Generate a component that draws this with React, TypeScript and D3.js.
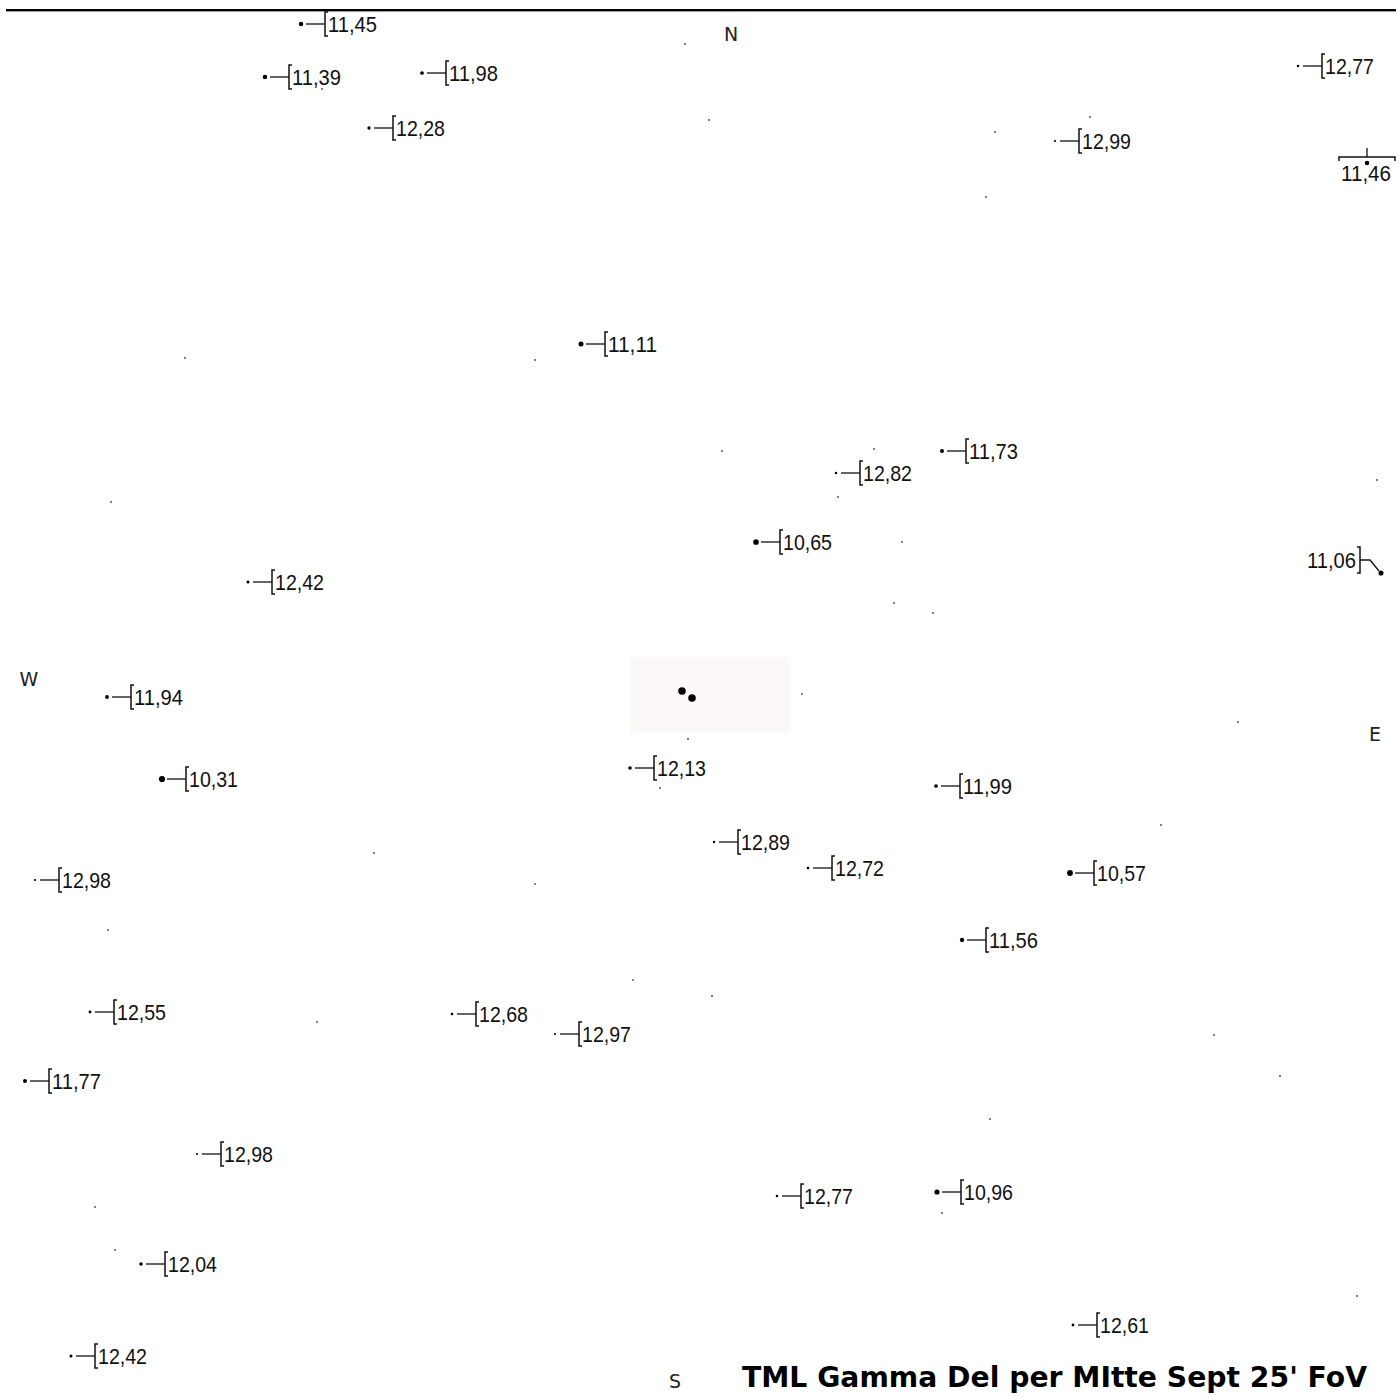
import React from "react";
import * as d3 from "d3";

// Chart-plane positions (chart units, 0..1399 across the 25' field)
const labelText = ["11,45","11,39","11,98","12,28","12,77","11,46","12,99","11,11","11,73","12,82","10,65","11,06","12,42","11,94","10,31","12,13","11,99","12,89","12,72","10,57","11,56","12,98","12,55","12,68","12,97","11,77","12,98","12,77","10,96","12,04","12,61","12,42"];
const starX = [301,265,422,369,1298,1367,1055,581,942,836,756,1381,248,107,162,630,936,714,808,1070,962,35,90,452,555,25,197,777,937,141,1073,71];
const starY = [24,77,73,128,66,163,141,344,451,473,542,573,582,697,779,768,786,842,868,873,940,880,1012,1014,1034,1081,1154,1196,1192,1264,1325,1356];
const placement = ["r","r","r","r","r","b","r","r","r","r","r","l","r","r","r","r","r","r","r","r","r","r","r","r","r","r","r","r","r","r","r","r"];

const faintX = [685,709,995,1090,986,322,185,535,722,874,838,111,902,894,933,1377,802,688,1238,660,1161,374,535,108,633,712,317,1214,1280,990,942,95,115,1357];
const faintY = [44,120,132,117,197,89,358,360,451,449,497,502,542,603,613,480,694,739,722,788,825,853,884,930,980,996,1022,1035,1076,1119,1213,1207,1250,1296];

const targetX = [682,692];
const targetY = [691,698];

const compass = ["N","W","E","S"];
const compassX = [731,29,1375,675];
const compassY = [34,679,734,1381];

const title = "TML Gamma Del per MItte Sept 25' FoV";

const W = 1399;
const H = 1399;

export default function App() {
  const x = d3.scaleLinear().domain([0, 1399]).range([0, W]);
  const y = d3.scaleLinear().domain([0, 1399]).range([0, H]);
  const rMag = d3.scaleLinear().domain([10.3, 13]).range([3.1, 1.1]).clamp(true);
  const font = "'Liberation Sans Narrow', 'Liberation Sans', Arial, sans-serif";
  const ink = "#111";

  const labels = labelText.map((t, i) => {
    const sx = x(starX[i]);
    const sy = y(starY[i]);
    const mag = parseFloat(t.replace(",", "."));
    const r = rMag(mag);
    const p = placement[i];
    const items: React.ReactNode[] = [];
    items.push(<circle key="d" cx={sx} cy={sy} r={r} fill="#000" />);
    if (p === "r") {
      const bx = sx + 24;
      items.push(<line key="l" x1={sx + 5} y1={sy} x2={bx} y2={sy} stroke={ink} strokeWidth={1.3} />);
      items.push(<path key="b" d={`M${bx + 3},${sy - 12}H${bx}V${sy + 12}H${bx + 3}`} fill="none" stroke={ink} strokeWidth={1.5} />);
      items.push(
        <text key="t" x={bx + 3} y={sy + 8} fontFamily={font} fontSize={22} fill={ink} textLength={49} lengthAdjust="spacingAndGlyphs">{t}</text>
      );
    } else if (p === "l") {
      const bx = sx - 21;
      items.push(<path key="l" d={`M${bx},${sy - 13}H${bx + 10}L${sx - 2},${sy - 2}`} fill="none" stroke={ink} strokeWidth={1.3} />);
      items.push(<path key="b" d={`M${bx - 3},${sy - 26}H${bx}V${sy}H${bx - 3}`} fill="none" stroke={ink} strokeWidth={1.5} />);
      items.push(
        <text key="t" x={bx - 4} y={sy - 5} textAnchor="end" fontFamily={font} fontSize={22} fill={ink} textLength={49} lengthAdjust="spacingAndGlyphs">{t}</text>
      );
    } else {
      const by = sy - 6;
      items.push(<line key="l" x1={sx} y1={by - 9} x2={sx} y2={by} stroke={ink} strokeWidth={1.3} />);
      items.push(<path key="b" d={`M${sx - 28},${by + 4}V${by}H${sx + 28}V${by + 4}`} fill="none" stroke={ink} strokeWidth={1.5} />);
      items.push(
        <text key="t" x={sx - 26} y={sy + 18} fontFamily={font} fontSize={22} fill={ink} textLength={50} lengthAdjust="spacingAndGlyphs">{t}</text>
      );
    }
    return <g key={i}>{items}</g>;
  });

  return (
    <svg width={W} height={H} style={{ position: "absolute", left: 0, top: 0, background: "#fff" }}>
      <rect x={0} y={0} width={W} height={H} fill="#fff" />
      <line x1={6} y1={10} x2={1396} y2={10} stroke="#000" strokeWidth={2} />
      <line x1={6} y1={11.5} x2={1396} y2={11.5} stroke="#999" strokeWidth={1} />
      <rect x={x(630)} y={y(657)} width={x(790) - x(630)} height={y(733) - y(657)} fill="#fdf8f8" />
      {faintX.map((fx, i) => (
        <circle key={"f" + i} cx={x(fx)} cy={y(faintY[i])} r={0.9} fill="#444" />
      ))}
      {targetX.map((tx, i) => (
        <circle key={"t" + i} cx={x(tx)} cy={y(targetY[i])} r={3.8} fill="#000" />
      ))}
      {labels}
      {compass.map((c, i) => (
        <text key={c} x={x(compassX[i])} y={y(compassY[i]) + 7} textAnchor="middle" fontFamily="'DejaVu Sans', Verdana, sans-serif" fontSize={19} fill="#222">{c}</text>
      ))}
      <text x={742} y={1387} fontFamily="'DejaVu Sans', Verdana, sans-serif" fontWeight="bold" fontSize={28} fill="#000" textLength={625} lengthAdjust="spacingAndGlyphs">{title}</text>
    </svg>
  );
}
